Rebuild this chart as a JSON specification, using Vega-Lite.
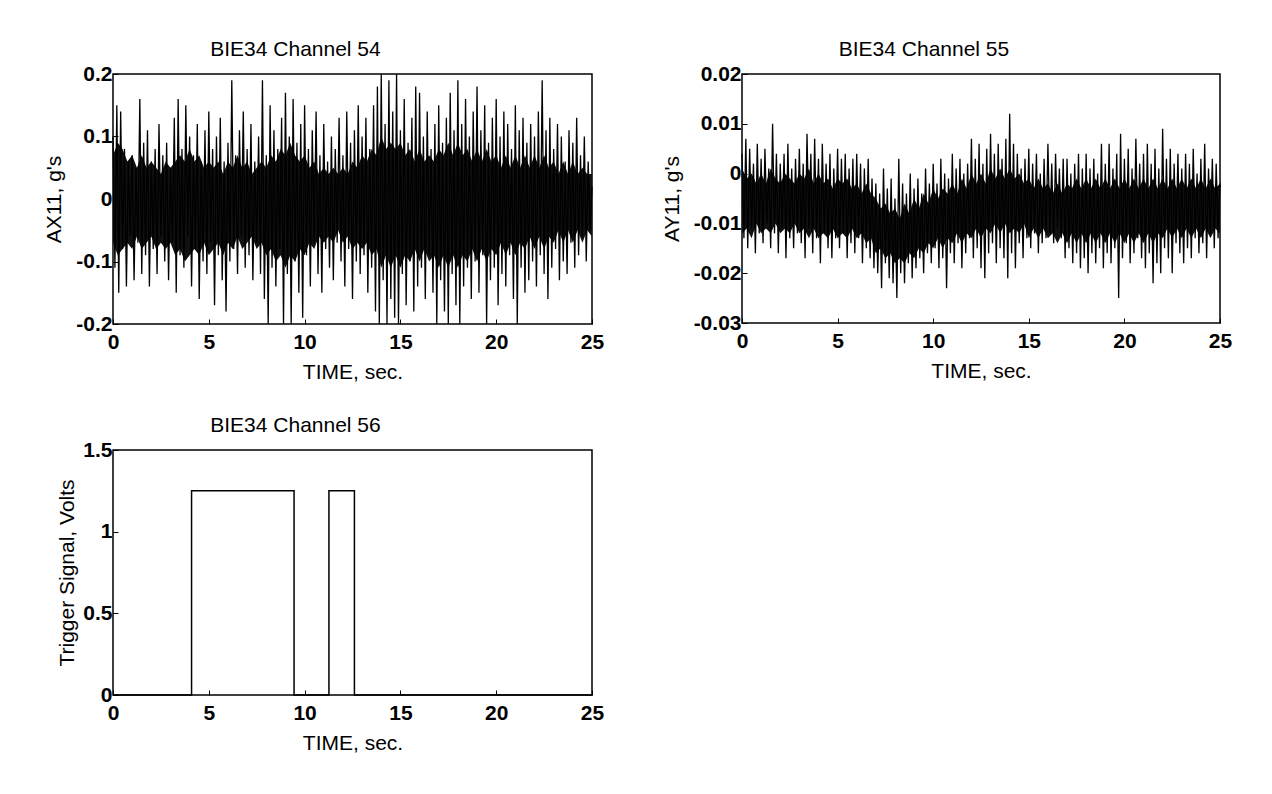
{
"$schema": "https://vega.github.io/schema/vega-lite/v6.json",
"autosize": {"type": "pad"},
"padding": {"left": 43, "top": 38, "right": 0, "bottom": 0},
"background": "white",
"config": {
  "view": {"stroke": "black", "strokeWidth": 1.5, "fill": "white"},
  "font": "Liberation Sans",
  "axis": {"domain": false, "grid": false, "ticks": true, "tickSize": -5, "tickColor": "black", "labelFont": "Liberation Sans", "labelFontSize": 21, "labelFontWeight": "bold", "labelColor": "black", "titleFont": "Liberation Sans", "titleFontSize": 21, "titleFontWeight": "normal", "titleColor": "black", "labelFlush": false, "labelOverlap": false},
  "axisX": {"labelPadding": 12, "titlePadding": 9},
  "axisY": {"labelPadding": 6, "titlePadding": 11},
  "title": {"font": "Liberation Sans", "fontSize": 21, "fontWeight": "normal", "color": "black", "offset": 3, "anchor": "middle", "dx": -57}
},
"datasets": {
"sig": [
{"t":0,"a":0.10,"b":0.004},{"t":0.1,"a":-0.11,"b":-0.013},{"t":0.2,"a":0.15,"b":0.007},{"t":0.3,"a":-0.15,"b":-0.015},{"t":0.4,"a":0.14,"b":0.005},{"t":0.5,"a":-0.08,"b":-0.011},{"t":0.6,"a":0.08,"b":0.002},{"t":0.7,"a":-0.14,"b":-0.016},{"t":0.8,"a":0.06,"b":0.006},{"t":0.9,"a":-0.06,"b":-0.012},
{"t":1,"a":0.07,"b":0.003},{"t":1.1,"a":-0.13,"b":-0.014},{"t":1.2,"a":0.05,"b":0.005},{"t":1.3,"a":-0.07,"b":-0.010},{"t":1.4,"a":0.16,"b":0.001},{"t":1.5,"a":-0.12,"b":-0.015},{"t":1.6,"a":0.09,"b":0.010},{"t":1.7,"a":-0.09,"b":-0.012},{"t":1.8,"a":0.11,"b":0.004},{"t":1.9,"a":-0.14,"b":-0.016},
{"t":2,"a":0.06,"b":0.002},{"t":2.1,"a":-0.08,"b":-0.011},{"t":2.2,"a":0.08,"b":0.004},{"t":2.3,"a":-0.12,"b":-0.017},{"t":2.4,"a":0.12,"b":0.006},{"t":2.5,"a":-0.06,"b":-0.013},{"t":2.6,"a":0.07,"b":0.001},{"t":2.7,"a":-0.10,"b":-0.015},{"t":2.8,"a":0.09,"b":0.003},{"t":2.9,"a":-0.13,"b":-0.012},
{"t":3,"a":0.05,"b":0.005},{"t":3.1,"a":-0.07,"b":-0.014},{"t":3.2,"a":0.13,"b":0.002},{"t":3.3,"a":-0.15,"b":-0.017},{"t":3.4,"a":0.16,"b":0.008},{"t":3.5,"a":-0.09,"b":-0.011},{"t":3.6,"a":0.08,"b":0.004},{"t":3.7,"a":-0.11,"b":-0.016},{"t":3.8,"a":0.15,"b":0.007},{"t":3.9,"a":-0.06,"b":-0.013},
{"t":4,"a":0.10,"b":0.003},{"t":4.1,"a":-0.14,"b":-0.018},{"t":4.2,"a":0.07,"b":0.006},{"t":4.3,"a":-0.08,"b":-0.012},{"t":4.4,"a":0.12,"b":0.002},{"t":4.5,"a":-0.16,"b":-0.015},{"t":4.6,"a":0.06,"b":0.004},{"t":4.7,"a":-0.10,"b":-0.017},{"t":4.8,"a":0.11,"b":0.001},{"t":4.9,"a":-0.12,"b":-0.013},
{"t":5,"a":0.14,"b":0.005},{"t":5.1,"a":-0.07,"b":-0.015},{"t":5.2,"a":0.08,"b":0.003},{"t":5.3,"a":-0.17,"b":-0.012},{"t":5.4,"a":0.10,"b":0.004},{"t":5.5,"a":-0.09,"b":-0.017},{"t":5.6,"a":0.13,"b":0.001},{"t":5.7,"a":-0.13,"b":-0.014},{"t":5.8,"a":0.06,"b":0.003},{"t":5.9,"a":-0.18,"b":-0.016},
{"t":6,"a":0.09,"b":0.004},{"t":6.1,"a":-0.10,"b":-0.013},{"t":6.2,"a":0.19,"b":0.002},{"t":6.3,"a":-0.08,"b":-0.018},{"t":6.4,"a":0.07,"b":0.001},{"t":6.5,"a":-0.12,"b":-0.015},{"t":6.6,"a":0.11,"b":0.003},{"t":6.7,"a":-0.06,"b":-0.017},{"t":6.8,"a":0.14,"b":-0.001},{"t":6.9,"a":-0.11,"b":-0.019},
{"t":7,"a":0.08,"b":-0.002},{"t":7.1,"a":-0.09,"b":-0.020},{"t":7.2,"a":0.12,"b":-0.004},{"t":7.3,"a":-0.13,"b":-0.023},{"t":7.4,"a":0.06,"b":0.001},{"t":7.5,"a":-0.07,"b":-0.018},{"t":7.6,"a":0.10,"b":-0.003},{"t":7.7,"a":-0.12,"b":-0.021},{"t":7.8,"a":0.19,"b":-0.001},{"t":7.9,"a":-0.16,"b":-0.022},
{"t":8,"a":0.07,"b":-0.005},{"t":8.1,"a":-0.20,"b":-0.025},{"t":8.2,"a":0.15,"b":0.003},{"t":8.3,"a":-0.11,"b":-0.020},{"t":8.4,"a":0.11,"b":-0.002},{"t":8.5,"a":-0.14,"b":-0.022},{"t":8.6,"a":0.08,"b":-0.004},{"t":8.7,"a":-0.08,"b":-0.018},{"t":8.8,"a":0.13,"b":0.000},{"t":8.9,"a":-0.20,"b":-0.021},
{"t":9,"a":0.17,"b":-0.003},{"t":9.1,"a":-0.12,"b":-0.019},{"t":9.2,"a":0.10,"b":-0.001},{"t":9.3,"a":-0.20,"b":-0.017},{"t":9.4,"a":0.16,"b":-0.004},{"t":9.5,"a":-0.10,"b":-0.020},{"t":9.6,"a":0.09,"b":0.001},{"t":9.7,"a":-0.15,"b":-0.016},{"t":9.8,"a":0.12,"b":-0.002},{"t":9.9,"a":-0.19,"b":-0.018},
{"t":10,"a":0.15,"b":0.002},{"t":10.1,"a":-0.09,"b":-0.015},{"t":10.2,"a":0.08,"b":-0.002},{"t":10.3,"a":-0.14,"b":-0.019},{"t":10.4,"a":0.11,"b":0.003},{"t":10.5,"a":-0.07,"b":-0.017},{"t":10.6,"a":0.14,"b":0.000},{"t":10.7,"a":-0.12,"b":-0.023},{"t":10.8,"a":0.07,"b":-0.001},{"t":10.9,"a":-0.15,"b":-0.016},
{"t":11,"a":0.12,"b":0.004},{"t":11.1,"a":-0.08,"b":-0.018},{"t":11.2,"a":0.06,"b":0.001},{"t":11.3,"a":-0.11,"b":-0.014},{"t":11.4,"a":0.10,"b":0.003},{"t":11.5,"a":-0.13,"b":-0.019},{"t":11.6,"a":0.08,"b":0.000},{"t":11.7,"a":-0.07,"b":-0.016},{"t":11.8,"a":0.13,"b":0.002},{"t":11.9,"a":-0.10,"b":-0.013},
{"t":12,"a":0.07,"b":0.007},{"t":12.1,"a":-0.14,"b":-0.017},{"t":12.2,"a":0.14,"b":0.003},{"t":12.3,"a":-0.08,"b":-0.015},{"t":12.4,"a":0.09,"b":0.006},{"t":12.5,"a":-0.16,"b":-0.019},{"t":12.6,"a":0.11,"b":0.002},{"t":12.7,"a":-0.10,"b":-0.021},{"t":12.8,"a":0.15,"b":0.005},{"t":12.9,"a":-0.12,"b":-0.016},
{"t":13,"a":0.10,"b":0.008},{"t":13.1,"a":-0.09,"b":-0.014},{"t":13.2,"a":0.13,"b":0.004},{"t":13.3,"a":-0.15,"b":-0.018},{"t":13.4,"a":0.08,"b":0.006},{"t":13.5,"a":-0.11,"b":-0.015},{"t":13.6,"a":0.15,"b":0.003},{"t":13.7,"a":-0.18,"b":-0.017},{"t":13.8,"a":0.18,"b":0.007},{"t":13.9,"a":-0.20,"b":-0.021},
{"t":14,"a":0.20,"b":0.012},{"t":14.1,"a":-0.13,"b":-0.016},{"t":14.2,"a":0.12,"b":0.006},{"t":14.3,"a":-0.20,"b":-0.019},{"t":14.4,"a":0.19,"b":0.004},{"t":14.5,"a":-0.16,"b":-0.014},{"t":14.6,"a":0.14,"b":0.001},{"t":14.7,"a":-0.19,"b":-0.017},{"t":14.8,"a":0.20,"b":0.003},{"t":14.9,"a":-0.20,"b":-0.013},
{"t":15,"a":0.11,"b":0.005},{"t":15.1,"a":-0.12,"b":-0.015},{"t":15.2,"a":0.16,"b":0.002},{"t":15.3,"a":-0.17,"b":-0.012},{"t":15.4,"a":0.09,"b":0.004},{"t":15.5,"a":-0.10,"b":-0.016},{"t":15.6,"a":0.13,"b":0.000},{"t":15.7,"a":-0.18,"b":-0.014},{"t":15.8,"a":0.18,"b":0.003},{"t":15.9,"a":-0.14,"b":-0.013},
{"t":16,"a":0.17,"b":0.006},{"t":16.1,"a":-0.11,"b":-0.012},{"t":16.2,"a":0.10,"b":0.002},{"t":16.3,"a":-0.16,"b":-0.014},{"t":16.4,"a":0.14,"b":0.004},{"t":16.5,"a":-0.09,"b":-0.011},{"t":16.6,"a":0.08,"b":0.001},{"t":16.7,"a":-0.15,"b":-0.013},{"t":16.8,"a":0.12,"b":0.003},{"t":16.9,"a":-0.20,"b":-0.017},
{"t":17,"a":0.15,"b":0.003},{"t":17.1,"a":-0.13,"b":-0.015},{"t":17.2,"a":0.09,"b":0.000},{"t":17.3,"a":-0.18,"b":-0.018},{"t":17.4,"a":0.13,"b":0.002},{"t":17.5,"a":-0.20,"b":-0.016},{"t":17.6,"a":0.17,"b":0.004},{"t":17.7,"a":-0.12,"b":-0.019},{"t":17.8,"a":0.11,"b":0.001},{"t":17.9,"a":-0.17,"b":-0.017},
{"t":18,"a":0.19,"b":0.004},{"t":18.1,"a":-0.20,"b":-0.020},{"t":18.2,"a":0.12,"b":0.001},{"t":18.3,"a":-0.14,"b":-0.016},{"t":18.4,"a":0.16,"b":0.003},{"t":18.5,"a":-0.11,"b":-0.018},{"t":18.6,"a":0.10,"b":0.000},{"t":18.7,"a":-0.16,"b":-0.015},{"t":18.8,"a":0.14,"b":0.006},{"t":18.9,"a":-0.10,"b":-0.019},
{"t":19,"a":0.18,"b":0.002},{"t":19.1,"a":-0.15,"b":-0.016},{"t":19.2,"a":0.11,"b":0.006},{"t":19.3,"a":-0.09,"b":-0.018},{"t":19.4,"a":0.15,"b":0.001},{"t":19.5,"a":-0.20,"b":-0.015},{"t":19.6,"a":0.09,"b":0.004},{"t":19.7,"a":-0.13,"b":-0.025},{"t":19.8,"a":0.13,"b":0.008},{"t":19.9,"a":-0.11,"b":-0.017},
{"t":20,"a":0.16,"b":0.003},{"t":20.1,"a":-0.17,"b":-0.014},{"t":20.2,"a":0.10,"b":0.005},{"t":20.3,"a":-0.12,"b":-0.018},{"t":20.4,"a":0.14,"b":0.001},{"t":20.5,"a":-0.14,"b":-0.016},{"t":20.6,"a":0.12,"b":0.007},{"t":20.7,"a":-0.09,"b":-0.013},{"t":20.8,"a":0.08,"b":0.002},{"t":20.9,"a":-0.16,"b":-0.017},
{"t":21,"a":0.15,"b":0.004},{"t":21.1,"a":-0.20,"b":-0.019},{"t":21.2,"a":0.11,"b":0.006},{"t":21.3,"a":-0.11,"b":-0.016},{"t":21.4,"a":0.13,"b":0.002},{"t":21.5,"a":-0.15,"b":-0.022},{"t":21.6,"a":0.09,"b":0.005},{"t":21.7,"a":-0.13,"b":-0.018},{"t":21.8,"a":0.12,"b":0.001},{"t":21.9,"a":-0.10,"b":-0.020},
{"t":22,"a":0.10,"b":0.009},{"t":22.1,"a":-0.14,"b":-0.015},{"t":22.2,"a":0.14,"b":0.003},{"t":22.3,"a":-0.09,"b":-0.017},{"t":22.4,"a":0.19,"b":0.005},{"t":22.5,"a":-0.12,"b":-0.020},{"t":22.6,"a":0.11,"b":0.002},{"t":22.7,"a":-0.16,"b":-0.014},{"t":22.8,"a":0.13,"b":0.004},{"t":22.9,"a":-0.11,"b":-0.016},
{"t":23,"a":0.08,"b":0.001},{"t":23.1,"a":-0.08,"b":-0.018},{"t":23.2,"a":0.12,"b":0.004},{"t":23.3,"a":-0.13,"b":-0.015},{"t":23.4,"a":0.10,"b":0.002},{"t":23.5,"a":-0.10,"b":-0.017},{"t":23.6,"a":0.06,"b":0.005},{"t":23.7,"a":-0.12,"b":-0.013},{"t":23.8,"a":0.11,"b":0.000},{"t":23.9,"a":-0.07,"b":-0.016},
{"t":24,"a":0.09,"b":0.003},{"t":24.1,"a":-0.11,"b":-0.014},{"t":24.2,"a":0.13,"b":0.006},{"t":24.3,"a":-0.09,"b":-0.017},{"t":24.4,"a":0.07,"b":0.001},{"t":24.5,"a":-0.06,"b":-0.012},{"t":24.6,"a":0.10,"b":0.003},{"t":24.7,"a":-0.10,"b":-0.015},{"t":24.8,"a":0.06,"b":0.002},{"t":24.9,"a":-0.05,"b":-0.013},
{"t":25,"a":0.02,"b":-0.002}
],
"core": [
{"t":0,"lo1":-0.07,"hi1":0.07,"lo2":-0.012,"hi2":0.001},
{"t":0.25,"lo1":-0.09,"hi1":0.09,"lo2":-0.011,"hi2":-0.001},
{"t":0.5,"lo1":-0.08,"hi1":0.08,"lo2":-0.013,"hi2":0.000},
{"t":0.75,"lo1":-0.07,"hi1":0.06,"lo2":-0.010,"hi2":-0.002},
{"t":1,"lo1":-0.08,"hi1":0.07,"lo2":-0.012,"hi2":0.000},
{"t":1.25,"lo1":-0.06,"hi1":0.05,"lo2":-0.011,"hi2":-0.002},
{"t":1.5,"lo1":-0.08,"hi1":0.07,"lo2":-0.012,"hi2":0.001},
{"t":1.75,"lo1":-0.07,"hi1":0.05,"lo2":-0.010,"hi2":-0.001},
{"t":2,"lo1":-0.06,"hi1":0.06,"lo2":-0.012,"hi2":-0.002},
{"t":2.25,"lo1":-0.08,"hi1":0.05,"lo2":-0.011,"hi2":0.000},
{"t":2.5,"lo1":-0.07,"hi1":0.04,"lo2":-0.012,"hi2":-0.001},
{"t":2.75,"lo1":-0.08,"hi1":0.06,"lo2":-0.010,"hi2":-0.002},
{"t":3,"lo1":-0.07,"hi1":0.05,"lo2":-0.012,"hi2":0.000},
{"t":3.25,"lo1":-0.09,"hi1":0.06,"lo2":-0.011,"hi2":-0.001},
{"t":3.5,"lo1":-0.08,"hi1":0.07,"lo2":-0.013,"hi2":0.001},
{"t":3.75,"lo1":-0.10,"hi1":0.06,"lo2":-0.011,"hi2":-0.002},
{"t":4,"lo1":-0.09,"hi1":0.08,"lo2":-0.013,"hi2":0.000},
{"t":4.25,"lo1":-0.08,"hi1":0.06,"lo2":-0.012,"hi2":-0.002},
{"t":4.5,"lo1":-0.09,"hi1":0.07,"lo2":-0.013,"hi2":-0.001},
{"t":4.75,"lo1":-0.07,"hi1":0.05,"lo2":-0.011,"hi2":-0.003},
{"t":5,"lo1":-0.09,"hi1":0.06,"lo2":-0.013,"hi2":-0.001},
{"t":5.25,"lo1":-0.08,"hi1":0.05,"lo2":-0.012,"hi2":-0.002},
{"t":5.5,"lo1":-0.07,"hi1":0.06,"lo2":-0.013,"hi2":-0.001},
{"t":5.75,"lo1":-0.09,"hi1":0.04,"lo2":-0.011,"hi2":-0.003},
{"t":6,"lo1":-0.07,"hi1":0.06,"lo2":-0.013,"hi2":-0.002},
{"t":6.25,"lo1":-0.08,"hi1":0.05,"lo2":-0.012,"hi2":-0.004},
{"t":6.5,"lo1":-0.06,"hi1":0.07,"lo2":-0.014,"hi2":-0.002},
{"t":6.75,"lo1":-0.08,"hi1":0.05,"lo2":-0.013,"hi2":-0.004},
{"t":7,"lo1":-0.07,"hi1":0.06,"lo2":-0.016,"hi2":-0.005},
{"t":7.25,"lo1":-0.06,"hi1":0.04,"lo2":-0.015,"hi2":-0.007},
{"t":7.5,"lo1":-0.08,"hi1":0.05,"lo2":-0.017,"hi2":-0.006},
{"t":7.75,"lo1":-0.07,"hi1":0.06,"lo2":-0.016,"hi2":-0.008},
{"t":8,"lo1":-0.09,"hi1":0.05,"lo2":-0.018,"hi2":-0.007},
{"t":8.25,"lo1":-0.08,"hi1":0.07,"lo2":-0.017,"hi2":-0.009},
{"t":8.5,"lo1":-0.10,"hi1":0.06,"lo2":-0.018,"hi2":-0.006},
{"t":8.75,"lo1":-0.09,"hi1":0.08,"lo2":-0.016,"hi2":-0.008},
{"t":9,"lo1":-0.11,"hi1":0.07,"lo2":-0.017,"hi2":-0.005},
{"t":9.25,"lo1":-0.09,"hi1":0.09,"lo2":-0.015,"hi2":-0.007},
{"t":9.5,"lo1":-0.10,"hi1":0.07,"lo2":-0.016,"hi2":-0.004},
{"t":9.75,"lo1":-0.08,"hi1":0.06,"lo2":-0.014,"hi2":-0.006},
{"t":10,"lo1":-0.09,"hi1":0.07,"lo2":-0.015,"hi2":-0.003},
{"t":10.25,"lo1":-0.07,"hi1":0.05,"lo2":-0.013,"hi2":-0.005},
{"t":10.5,"lo1":-0.08,"hi1":0.06,"lo2":-0.015,"hi2":-0.003},
{"t":10.75,"lo1":-0.06,"hi1":0.04,"lo2":-0.013,"hi2":-0.004},
{"t":11,"lo1":-0.07,"hi1":0.05,"lo2":-0.014,"hi2":-0.002},
{"t":11.25,"lo1":-0.06,"hi1":0.04,"lo2":-0.012,"hi2":-0.004},
{"t":11.5,"lo1":-0.07,"hi1":0.05,"lo2":-0.014,"hi2":-0.001},
{"t":11.75,"lo1":-0.05,"hi1":0.04,"lo2":-0.012,"hi2":-0.003},
{"t":12,"lo1":-0.07,"hi1":0.05,"lo2":-0.013,"hi2":0.000},
{"t":12.25,"lo1":-0.06,"hi1":0.04,"lo2":-0.011,"hi2":-0.002},
{"t":12.5,"lo1":-0.08,"hi1":0.06,"lo2":-0.013,"hi2":0.000},
{"t":12.75,"lo1":-0.07,"hi1":0.05,"lo2":-0.011,"hi2":-0.002},
{"t":13,"lo1":-0.08,"hi1":0.07,"lo2":-0.012,"hi2":0.001},
{"t":13.25,"lo1":-0.07,"hi1":0.06,"lo2":-0.010,"hi2":-0.001},
{"t":13.5,"lo1":-0.09,"hi1":0.08,"lo2":-0.012,"hi2":0.001},
{"t":13.75,"lo1":-0.08,"hi1":0.07,"lo2":-0.010,"hi2":-0.001},
{"t":14,"lo1":-0.11,"hi1":0.10,"lo2":-0.012,"hi2":0.001},
{"t":14.25,"lo1":-0.09,"hi1":0.08,"lo2":-0.011,"hi2":-0.001},
{"t":14.5,"lo1":-0.11,"hi1":0.09,"lo2":-0.012,"hi2":0.000},
{"t":14.75,"lo1":-0.09,"hi1":0.08,"lo2":-0.010,"hi2":-0.002},
{"t":15,"lo1":-0.11,"hi1":0.09,"lo2":-0.013,"hi2":-0.001},
{"t":15.25,"lo1":-0.09,"hi1":0.07,"lo2":-0.011,"hi2":-0.003},
{"t":15.5,"lo1":-0.10,"hi1":0.08,"lo2":-0.013,"hi2":-0.001},
{"t":15.75,"lo1":-0.08,"hi1":0.06,"lo2":-0.011,"hi2":-0.003},
{"t":16,"lo1":-0.10,"hi1":0.08,"lo2":-0.013,"hi2":-0.002},
{"t":16.25,"lo1":-0.08,"hi1":0.06,"lo2":-0.012,"hi2":-0.004},
{"t":16.5,"lo1":-0.10,"hi1":0.07,"lo2":-0.014,"hi2":-0.002},
{"t":16.75,"lo1":-0.09,"hi1":0.06,"lo2":-0.012,"hi2":-0.004},
{"t":17,"lo1":-0.11,"hi1":0.08,"lo2":-0.014,"hi2":-0.002},
{"t":17.25,"lo1":-0.09,"hi1":0.07,"lo2":-0.012,"hi2":-0.003},
{"t":17.5,"lo1":-0.11,"hi1":0.09,"lo2":-0.014,"hi2":-0.001},
{"t":17.75,"lo1":-0.09,"hi1":0.07,"lo2":-0.012,"hi2":-0.003},
{"t":18,"lo1":-0.11,"hi1":0.09,"lo2":-0.014,"hi2":-0.001},
{"t":18.25,"lo1":-0.09,"hi1":0.07,"lo2":-0.012,"hi2":-0.003},
{"t":18.5,"lo1":-0.10,"hi1":0.08,"lo2":-0.014,"hi2":-0.001},
{"t":18.75,"lo1":-0.08,"hi1":0.06,"lo2":-0.012,"hi2":-0.003},
{"t":19,"lo1":-0.10,"hi1":0.08,"lo2":-0.014,"hi2":-0.001},
{"t":19.25,"lo1":-0.08,"hi1":0.06,"lo2":-0.012,"hi2":-0.003},
{"t":19.5,"lo1":-0.10,"hi1":0.08,"lo2":-0.014,"hi2":-0.001},
{"t":19.75,"lo1":-0.08,"hi1":0.06,"lo2":-0.012,"hi2":-0.003},
{"t":20,"lo1":-0.09,"hi1":0.07,"lo2":-0.014,"hi2":-0.001},
{"t":20.25,"lo1":-0.07,"hi1":0.05,"lo2":-0.012,"hi2":-0.003},
{"t":20.5,"lo1":-0.09,"hi1":0.07,"lo2":-0.014,"hi2":-0.001},
{"t":20.75,"lo1":-0.07,"hi1":0.05,"lo2":-0.012,"hi2":-0.003},
{"t":21,"lo1":-0.09,"hi1":0.07,"lo2":-0.014,"hi2":-0.001},
{"t":21.25,"lo1":-0.07,"hi1":0.05,"lo2":-0.012,"hi2":-0.003},
{"t":21.5,"lo1":-0.08,"hi1":0.07,"lo2":-0.014,"hi2":-0.001},
{"t":21.75,"lo1":-0.06,"hi1":0.05,"lo2":-0.012,"hi2":-0.003},
{"t":22,"lo1":-0.08,"hi1":0.07,"lo2":-0.013,"hi2":-0.001},
{"t":22.25,"lo1":-0.06,"hi1":0.05,"lo2":-0.011,"hi2":-0.003},
{"t":22.5,"lo1":-0.08,"hi1":0.07,"lo2":-0.013,"hi2":-0.001},
{"t":22.75,"lo1":-0.06,"hi1":0.05,"lo2":-0.011,"hi2":-0.003},
{"t":23,"lo1":-0.07,"hi1":0.06,"lo2":-0.013,"hi2":-0.001},
{"t":23.25,"lo1":-0.05,"hi1":0.04,"lo2":-0.011,"hi2":-0.003},
{"t":23.5,"lo1":-0.07,"hi1":0.06,"lo2":-0.013,"hi2":-0.001},
{"t":23.75,"lo1":-0.05,"hi1":0.04,"lo2":-0.011,"hi2":-0.003},
{"t":24,"lo1":-0.07,"hi1":0.06,"lo2":-0.013,"hi2":-0.001},
{"t":24.25,"lo1":-0.05,"hi1":0.04,"lo2":-0.011,"hi2":-0.003},
{"t":24.5,"lo1":-0.07,"hi1":0.05,"lo2":-0.013,"hi2":-0.001},
{"t":24.75,"lo1":-0.05,"hi1":0.04,"lo2":-0.011,"hi2":-0.003},
{"t":25,"lo1":-0.06,"hi1":0.04,"lo2":-0.012,"hi2":-0.002}
],
"trig": [
{"i":0,"t":0,"v":0},{"i":1,"t":4.1,"v":0},{"i":2,"t":4.1,"v":1.25},{"i":3,"t":9.45,"v":1.25},{"i":4,"t":9.45,"v":0},{"i":5,"t":11.27,"v":0},{"i":6,"t":11.27,"v":1.25},{"i":7,"t":12.6,"v":1.25},{"i":8,"t":12.6,"v":0},{"i":9,"t":25,"v":0}
]
},
"bounds": "flush",
"columns": 2,
"spacing": {"row": 126, "column": 150},
"concat": [
{
"width": 479, "height": 250,
"title": {"text": "BIE34 Channel 54"},
"encoding": {"x": {"field": "t", "type": "quantitative", "scale": {"domain": [0, 25], "nice": false}, "axis": {"title": "TIME, sec.", "values": [0,5,10,15,20,25], "labelExpr": "datum.value < 0 ? '-' + format(-datum.value, '~g') : format(datum.value, '~g')"}}},
"layer": [
{"data": {"name": "core"}, "mark": {"type": "area", "color": "#111111", "opacity": 1},
 "encoding": {"y": {"field": "lo1", "type": "quantitative", "scale": {"domain": [-0.2, 0.2], "nice": false, "zero": false}, "axis": {"title": "AX11, g's", "values": [-0.2,-0.1,0,0.1,0.2], "labelExpr": "datum.value < 0 ? '-' + format(-datum.value, '~g') : format(datum.value, '~g')"}}, "y2": {"field": "hi1"}}},
{"data": {"name": "sig"}, "mark": {"type": "line", "color": "black", "strokeWidth": 1.3},
 "encoding": {"y": {"field": "a", "type": "quantitative", "title": "AX11, g's"}}}
]
},
{
"width": 478, "height": 249,
"title": {"text": "BIE34 Channel 55"},
"encoding": {"x": {"field": "t", "type": "quantitative", "scale": {"domain": [0, 25], "nice": false}, "axis": {"title": "TIME, sec.", "values": [0,5,10,15,20,25], "labelExpr": "datum.value < 0 ? '-' + format(-datum.value, '~g') : format(datum.value, '~g')"}}},
"layer": [
{"data": {"name": "core"}, "mark": {"type": "area", "color": "#111111", "opacity": 1},
 "encoding": {"y": {"field": "lo2", "type": "quantitative", "scale": {"domain": [-0.03, 0.02], "nice": false, "zero": false}, "axis": {"title": "AY11, g's", "values": [-0.03,-0.02,-0.01,0,0.01,0.02], "labelExpr": "datum.value < 0 ? '-' + format(-datum.value, '~g') : format(datum.value, '~g')"}}, "y2": {"field": "hi2"}}},
{"data": {"name": "sig"}, "mark": {"type": "line", "color": "black", "strokeWidth": 1.3},
 "encoding": {"y": {"field": "b", "type": "quantitative", "title": "AY11, g's"}}}
]
},
{
"width": 479, "height": 245,
"title": {"text": "BIE34 Channel 56"},
"data": {"name": "trig"},
"mark": {"type": "line", "color": "black", "strokeWidth": 1.5},
"encoding": {
 "x": {"field": "t", "type": "quantitative", "scale": {"domain": [0, 25], "nice": false}, "axis": {"title": "TIME, sec.", "values": [0,5,10,15,20,25], "labelExpr": "datum.value < 0 ? '-' + format(-datum.value, '~g') : format(datum.value, '~g')"}},
 "y": {"field": "v", "type": "quantitative", "scale": {"domain": [0, 1.5], "nice": false}, "axis": {"title": "Trigger Signal, Volts", "titlePadding": 5, "values": [0,0.5,1,1.5], "labelExpr": "datum.value < 0 ? '-' + format(-datum.value, '~g') : format(datum.value, '~g')"}},
 "order": {"field": "i", "type": "quantitative"}
}
}
]
}
